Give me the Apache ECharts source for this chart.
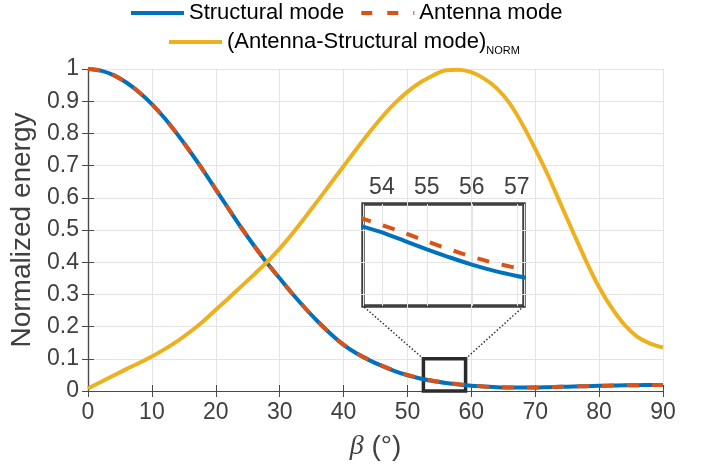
<!DOCTYPE html>
<html><head><meta charset="utf-8">
<script src="https://cdn.jsdelivr.net/npm/echarts@6/dist/echarts.min.js"></script>
<style>html,body{margin:0;padding:0;background:#fff}#c{width:706px;height:472px}</style>
</head><body><div id="c"></div>
<script>
// ---- data ----
const beta = [0,2,4,6,8,10,12,14,16,18,20,22,24,26,28,30,32,34,36,38,40,42,44,46,48,50,52,54,56,58,60,62,64,66,68,70,72,74,76,78,80,82,84,86,88,90];
const structural = [1.000,0.995,0.981,0.958,0.928,0.891,0.847,0.797,0.743,0.686,0.626,0.566,0.507,0.451,0.398,0.350,0.302,0.257,0.215,0.177,0.143,0.117,0.096,0.078,0.062,0.049,0.039,0.031,0.025,0.020,0.016,0.014,0.012,0.011,0.011,0.011,0.012,0.013,0.014,0.015,0.016,0.017,0.018,0.018,0.019,0.019];
const antenna = [1.000,0.995,0.981,0.958,0.928,0.891,0.847,0.797,0.743,0.686,0.626,0.566,0.507,0.451,0.398,0.350,0.302,0.257,0.215,0.177,0.144,0.118,0.097,0.079,0.063,0.050,0.040,0.032,0.026,0.021,0.017,0.014,0.012,0.011,0.011,0.011,0.012,0.013,0.014,0.015,0.016,0.017,0.018,0.018,0.019,0.019];
const difference = [0.008,0.028,0.048,0.068,0.087,0.107,0.130,0.155,0.184,0.216,0.252,0.288,0.325,0.362,0.400,0.442,0.489,0.540,0.592,0.645,0.698,0.751,0.802,0.850,0.893,0.929,0.958,0.980,0.996,0.998,0.990,0.970,0.940,0.893,0.828,0.752,0.670,0.580,0.490,0.402,0.322,0.257,0.205,0.168,0.147,0.135];

// zoomed inset
const insetBeta = [53.5,54,54.5,55,55.5,56,56.5,57,57.2];
const insetStructural = [0.0322,0.0310,0.0295,0.0280,0.0266,0.0253,0.0242,0.0233,0.0230];
const insetAntenna = [0.0336,0.0323,0.0309,0.0294,0.0280,0.0267,0.0256,0.0247,0.0244];
const insetXRange = [53.58, 57.16];
const insetYRange = [0.018, 0.036];
// zoom marker box in main-axes data units
const zoomBoxX = [52.5, 59.1];
const zoomBoxY = [0, 0.1];

const names = ['Structural mode', 'Antenna mode', '(Antenna-Structural mode)'];
const colors = ['#0072BD', '#D95319', '#EDB120'];

const pair = (xs, ys) => xs.map((x, i) => [x, ys[i]]);
const FONT = 'Liberation Sans, Arial, sans-serif';
const axisCol = '#4a4a4a';
const gridCol = '#e4e4e4';
const DASH = [12, 13];

const chart = echarts.init(document.getElementById('c'), null, {renderer: 'canvas'});

const mainX = {
  type: 'value', gridIndex: 0, min: 0, max: 90, interval: 10,
  axisLine: {show: true, lineStyle: {color: axisCol, width: 1.2}},
  axisTick: {show: true, inside: true, length: 6, lineStyle: {color: axisCol}},
  axisLabel: {fontSize: 23, color: '#404040', fontFamily: FONT, margin: 10},
  splitLine: {show: true, lineStyle: {color: gridCol, width: 1}},
  name: '{i|β} (°)', nameLocation: 'middle', nameGap: 42,
  nameTextStyle: {fontSize: 28, color: '#404040', fontFamily: FONT,
    rich: {i: {fontSize: 28, fontStyle: 'italic', fontFamily: 'Liberation Serif, serif', color: '#404040'}}}
};
const mainY = {
  type: 'value', gridIndex: 0, min: 0, max: 1, interval: 0.1,
  axisLine: {show: true, lineStyle: {color: axisCol, width: 1.2}},
  axisTick: {show: true, inside: true, length: 6, lineStyle: {color: axisCol}},
  axisLabel: {fontSize: 23, color: '#404040', fontFamily: FONT, margin: 9},
  splitLine: {show: true, lineStyle: {color: gridCol, width: 1}},
  name: 'Normalized energy', nameLocation: 'middle', nameGap: 50, nameRotate: 90,
  nameTextStyle: {fontSize: 28, color: '#404040', fontFamily: FONT}
};
const mirrorX = {
  type: 'value', gridIndex: 0, min: 0, max: 90, interval: 10, position: 'top',
  axisLine: {show: true, lineStyle: {color: axisCol, width: 1.2}},
  axisTick: {show: true, inside: true, length: 6, lineStyle: {color: axisCol}},
  axisLabel: {show: false}, splitLine: {show: false}
};
const mirrorY = {
  type: 'value', gridIndex: 0, min: 0, max: 1, interval: 0.1, position: 'right',
  axisLine: {show: true, lineStyle: {color: axisCol, width: 1.2}},
  axisTick: {show: true, inside: true, length: 6, lineStyle: {color: axisCol}},
  axisLabel: {show: false}, splitLine: {show: false}
};
const insetX = {
  type: 'value', gridIndex: 1, min: insetXRange[0], max: insetXRange[1], position: 'top',
  splitNumber: 4,
  axisLine: {show: false},
  axisTick: {show: false},
  axisLabel: {fontSize: 23, color: '#404040', fontFamily: FONT, margin: 5, showMinLabel: false, showMaxLabel: false},
  splitLine: {show: true, lineStyle: {color: gridCol, width: 1}}
};
const insetY = {
  type: 'value', gridIndex: 1, min: insetYRange[0], max: insetYRange[1],
  axisLine: {show: false}, axisTick: {show: false}, axisLabel: {show: false}, splitLine: {show: false}
};

const lineSeries = (name, data, color, dashed, xi, yi, extra) => Object.assign({
  type: 'line', name, data, xAxisIndex: xi, yAxisIndex: yi,
  symbol: 'none', smooth: 0.3, clip: true,
  lineStyle: {color, width: 4, type: dashed ? DASH : 'solid', cap: 'butt'},
  itemStyle: {color}, emphasis: {disabled: true}, animation: false
}, extra || {});

const legendBase = {
  padding: 0, itemWidth: 53, itemHeight: 14, itemGap: 15, selectedMode: false,
  itemStyle: {opacity: 0}, lineStyle: {width: 4}
};

chart.setOption({
  animation: false,
  backgroundColor: '#fff',
  grid: [
    {left: 88, right: 43, top: 69, bottom: 81, show: false},
    {left: 363, top: 204, width: 161, height: 102, show: true,
     borderColor: '#3f3f3f', borderWidth: 3.5, backgroundColor: 'transparent'}
  ],
  xAxis: [mainX, mirrorX, insetX],
  yAxis: [mainY, mirrorY, insetY],
  legend: [
    Object.assign({}, legendBase, {
     data: [{name: names[0]}, {name: names[1], lineStyle: {width: 4, type: [11, 15], color: colors[1]}}],
     left: 129, top: 0,
     textStyle: {fontSize: 22, color: '#000', fontFamily: FONT, lineHeight: 26}}),
    Object.assign({}, legendBase, {data: [names[2]], left: 167, top: 31,
     formatter: n => '{a|' + n + '}{b|NORM}',
     textStyle: {fontSize: 22, color: '#000', fontFamily: FONT,
       rich: {a: {fontSize: 22, lineHeight: 28, color: '#000', fontFamily: FONT},
              b: {fontSize: 11, lineHeight: 10, verticalAlign: 'bottom', color: '#000', fontFamily: FONT}}}})
  ],
  series: [
    lineSeries(names[0], pair(beta, structural), colors[0], false, 0, 0, {
      markArea: {silent: true, itemStyle: {color: 'rgba(0,0,0,0)', borderColor: '#2b2b2b', borderWidth: 3.5},
        data: [[{coord: [zoomBoxX[0], zoomBoxY[0]]}, {coord: [zoomBoxX[1], zoomBoxY[1]]}]]}
    }),
    lineSeries(names[1], pair(beta, antenna), colors[1], true, 0, 0),
    lineSeries(names[2], pair(beta, difference), colors[2], false, 0, 0),
    lineSeries('inset structural', pair(insetBeta, insetStructural), colors[0], false, 2, 2, {smooth: 0.2}),
    lineSeries('inset antenna', pair(insetBeta, insetAntenna), colors[1], true, 2, 2, {smooth: 0.2})
  ]
});

// dotted connectors from zoom box to inset
const a1 = chart.convertToPixel({gridIndex: 0}, [zoomBoxX[0], zoomBoxY[1]]);
const a2 = chart.convertToPixel({gridIndex: 0}, [zoomBoxX[1], zoomBoxY[1]]);
const b1 = chart.convertToPixel({gridIndex: 1}, [insetXRange[0], insetYRange[0]]);
const b2 = chart.convertToPixel({gridIndex: 1}, [insetXRange[1], insetYRange[0]]);
const dot = {stroke: '#333', lineWidth: 1.5, lineDash: [1.5, 2]};
chart.setOption({
  graphic: [
    {type: 'line', shape: {x1: a1[0], y1: a1[1], x2: b1[0], y2: b1[1]}, style: dot, z: 50},
    {type: 'line', shape: {x1: a2[0], y1: a2[1], x2: b2[0], y2: b2[1]}, style: dot, z: 50}
  ]
});
</script></body></html>
